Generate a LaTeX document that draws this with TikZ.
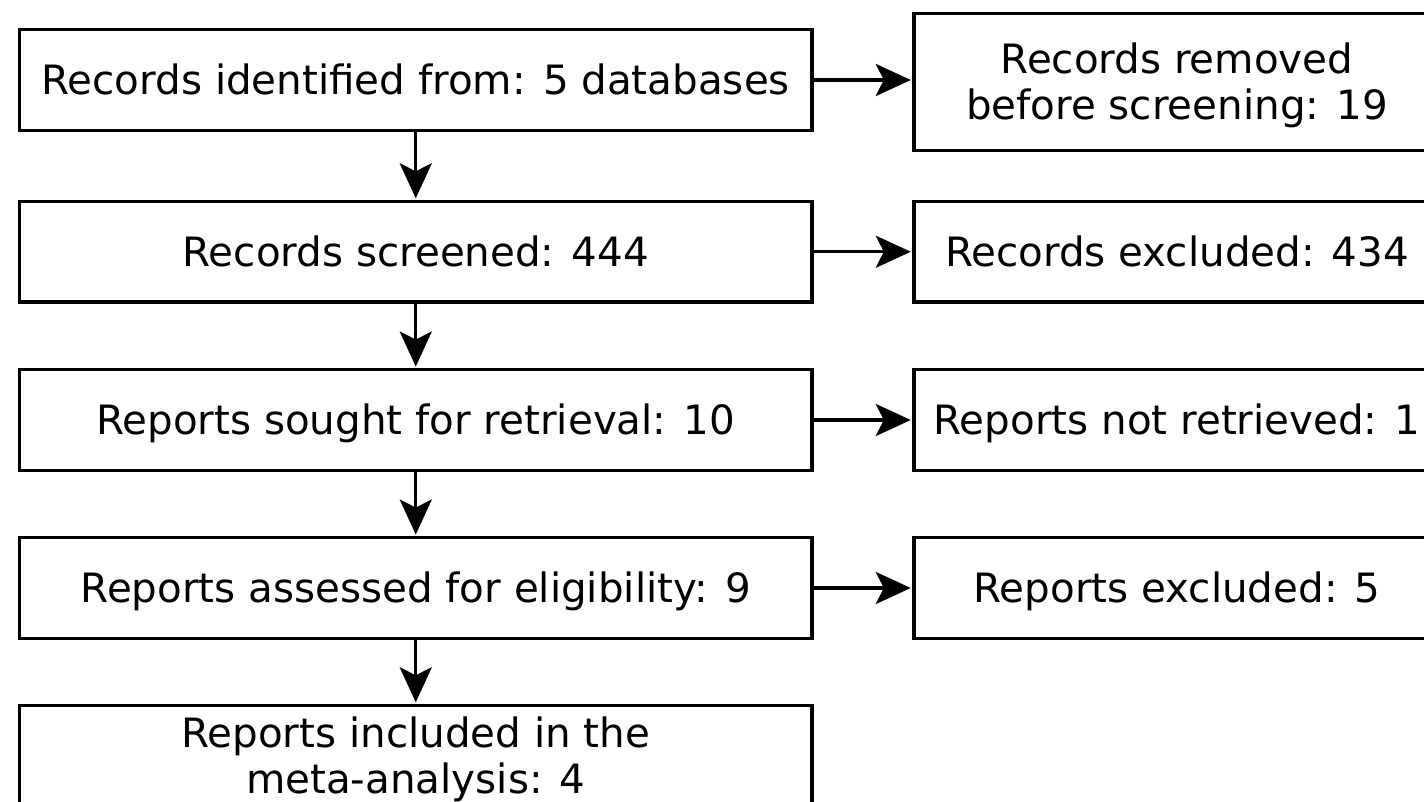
\documentclass[tikz,border=0pt]{standalone}
\usepackage{fontspec}
\setmainfont{DejaVu Sans}
\usetikzlibrary{arrows.meta}
\begin{document}
\begin{tikzpicture}[x=0.5pt,y=-0.5pt,
  box/.style={draw, line width=1.7pt, minimum width=396.25pt, minimum height=50.25pt,
    inner sep=0pt, text height=14.7pt, text depth=0pt,
    font=\fontsize{20.2pt}{23pt}\selectfont},
  rbox/.style={box, minimum width=263pt},
  twoline/.style={align=center, text height=37.7pt, text depth=0pt},
  flow/.style={line width=1.7pt, -{Stealth[length=17.5pt,width=16pt,inset=4pt]}, shorten >=0.75pt}]
\path[use as bounding box] (0,0) rectangle (1424,802);
\clip (0,0) rectangle (1424,802);
\node[box] (l1) at (415.75,80) {Records identified from: 5 databases};
\node[box] (l2) at (415.75,251.75) {Records screened: 444};
\node[box] (l3) at (415.75,420) {Reports sought for retrieval: 10};
\node[box] (l4) at (415.75,588) {Reports assessed for eligibility: 9};
\node[box,twoline] (l5) at (415.75,755.75) {Reports included in the\\meta-analysis: 4};
\node[rbox,twoline,minimum height=68.5pt] (r1) at (1177,82) {Records removed\\before screening: 19};
\node[rbox] (r2) at (1177,251.75) {Records excluded: 434};
\node[rbox] (r3) at (1177,420) {Reports not retrieved: 1};
\node[rbox] (r4) at (1177,588) {Reports excluded: 5};
\draw[flow] (l1) -- (l2);
\draw[flow] (l2) -- (l3);
\draw[flow] (l3) -- (l4);
\draw[flow] (l4) -- (l5);
\draw[flow] (l1.east) -- (l1.east -| r1.west);
\draw[flow] (l2) -- (r2);
\draw[flow] (l3) -- (r3);
\draw[flow] (l4) -- (r4);
\end{tikzpicture}
\end{document}
